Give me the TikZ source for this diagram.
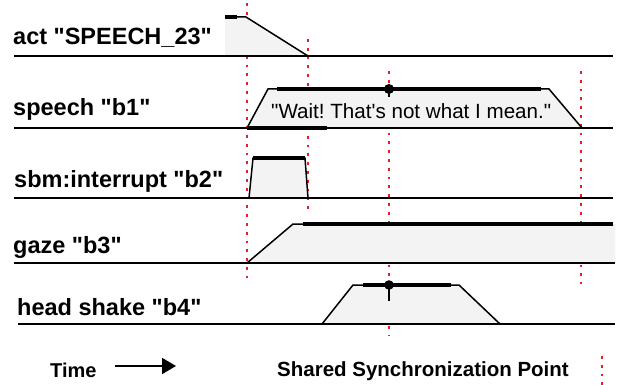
\documentclass[tikz,border=0pt]{standalone}
\usepackage{fontspec}
\setmainfont{Liberation Sans}[Ligatures=TeXOff]
\usetikzlibrary{arrows.meta}
\definecolor{shade}{RGB}{242,243,242}
\definecolor{syncred}{RGB}{237,28,36}
\frenchspacing
\begin{document}
\begin{tikzpicture}[x=1pt,y=-1pt,
  lbl/.style={anchor=base west,inner sep=0pt,font=\fontsize{23.5}{28}\selectfont\bfseries},
  legend/.style={anchor=base west,inner sep=0pt,font=\fontsize{20.5}{24}\selectfont\bfseries},
  utter/.style={anchor=base west,inner sep=0pt,font=\fontsize{20.6}{24}\selectfont},
  baseln/.style={line width=1.8pt},
  edge/.style={line width=1.5pt,line join=miter},
  bar/.style={line width=4.5pt},
  tick/.style={line width=1.3pt},
  sync/.style={syncred,line width=2.8pt,dash pattern=on 2.8pt off 6pt},
  shapefill/.style={fill=shade}]
\useasboundingbox (0,0) rectangle (618,385);

% synchronization points (behind everything)
\draw[sync] (247,3) -- (247,278);
\draw[sync] (308,39) -- (308,209);
\draw[sync] (389,71) -- (389,336);
\draw[sync] (581,71) -- (581,284);
\draw[sync] (602,356) -- (602,385);

% fills
\fill[shapefill] (225,17) -- (246,17) -- (308,56) -- (225,56) -- cycle;
\fill[shapefill] (247,128) -- (268,89) -- (549,89) -- (582,128) -- cycle;
\fill[shapefill] (249,198) -- (253,158) -- (305,158) -- (308,198) -- cycle;
\fill[shapefill] (247,263) -- (293,224) -- (615,224) -- (615,263) -- cycle;
\fill[shapefill] (322,324) -- (353,285) -- (459,285) -- (500,324) -- cycle;

% act
\draw[baseln] (14,56) -- (613,56);
\draw[edge] (237,17) -- (246,17) -- (308,56);
\draw[bar] (225,17) -- (237,17);
\node[lbl] (lact) at (13,45) {act "SPEECH\_23"};

% speech
\draw[baseln] (14,128) -- (613,128);
\draw[line width=4pt] (247,128) -- (327,128);
\draw[edge] (247,128) -- (268,89) -- (549,89) -- (582,128);
\draw[bar] (277,89) -- (541,89);
\draw[tick] (389,89) -- (389,97);
\fill (389,89) circle (5);
\node[utter] (txt) at (271,118) {"Wait! That's not what I mean."};
\node[lbl] (lspeech) at (13,116) {speech "b1"};

% sbm
\draw[baseln] (14,198) -- (613,198);
\draw[edge] (249,198) -- (253,158) -- (305,158) -- (308,198);
\draw[bar] (253,158) -- (305,158);
\node[lbl] (lsbm) at (14,187) {sbm:interrupt "b2"};

% gaze
\draw[baseln] (14,263) -- (615,263);
\draw[edge] (247,263) -- (293,224) -- (303,224);
\draw[bar] (303,224) -- (613,224);
\node[lbl] (lgaze) at (13,253) {gaze "b3"};

% head shake
\draw[baseln] (18,324) -- (615,324);
\draw[edge] (322,324) -- (353,285) -- (459,285) -- (500,324);
\draw[bar] (363,285) -- (451,285);
\draw[tick] (389,285) -- (389,301);
\fill (389,285) circle (4.8);
\node[lbl] (lhead) at (17,315) {head shake "b4"};

% legend
\node[legend,font=\fontsize{20}{24}\selectfont\bfseries] (ltime) at (50,377) {Time};
\coordinate (ta) at (115,366);
\coordinate (tb) at (176,366);
\draw[line width=1.8pt,-{Triangle[length=14pt,width=16pt]}] (ta) -- (tb);
\node[legend] (lsync) at (277,376) {Shared Synchronization Point};
\end{tikzpicture}
\end{document}
